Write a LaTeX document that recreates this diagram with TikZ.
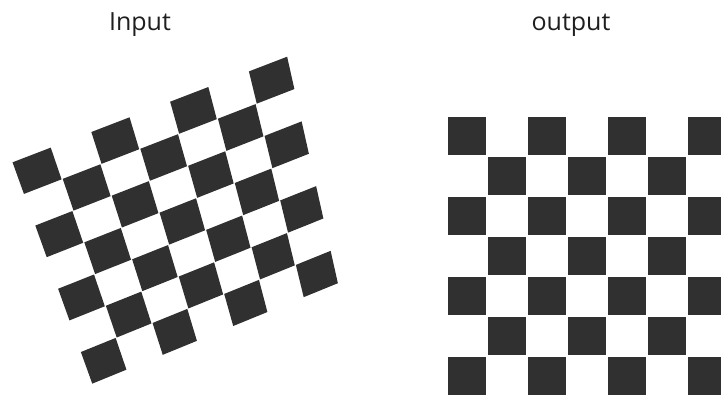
\documentclass[tikz,border=0pt]{standalone}
\usepackage{fontspec}
\setmainfont{Open Sans}
\definecolor{sq}{RGB}{48,48,48}
\tikzset{
  darksq/.style={fill=sq, draw=none},
  lbl/.style={anchor=base, inner sep=0pt, font=\fontsize{25}{30}\selectfont, text=black!88}
}
% bilinear map of board cell (c,r) to picture coordinates (pixels, y down)
\newcommand{\blpt}[2]{({37.2+39.1*(#1)+11.1*(#2)-0.594*(#1)*(#2)},{170.8-15.1*(#1)+31.67*(#2)+0.106*(#1)*(#2)})}
\begin{document}
\begin{tikzpicture}[x=1pt,y=-1pt]
\useasboundingbox (0,0) rectangle (721,396);
\node[lbl] (in) at (140,31) {Input};
\node[lbl] (out) at (571,31) {output};
% input board (warped)
\foreach \r in {0,...,6}{
  \foreach \c in {0,...,6}{
    \pgfmathtruncatemacro{\parity}{mod(\c+\r,2)}
    \ifnum\parity=0
      \pgfmathsetmacro{\ca}{\c-0.485}
      \pgfmathsetmacro{\cb}{\c+0.485}
      \pgfmathsetmacro{\ra}{\r-0.5}
      \pgfmathsetmacro{\rb}{\r+0.5}
      \fill[darksq] \blpt{\ca}{\ra} -- \blpt{\cb}{\ra} -- \blpt{\cb}{\rb} -- \blpt{\ca}{\rb} -- cycle;
    \fi
  }
}
% output board
\foreach \r in {0,...,6}{
  \foreach \c in {0,...,6}{
    \pgfmathtruncatemacro{\parity}{mod(\c+\r,2)}
    \ifnum\parity=0
      \fill[darksq] ({448+40*\c},{117+40*\r}) rectangle ++(37.5,37.5);
    \fi
  }
}
\end{tikzpicture}
\end{document}
